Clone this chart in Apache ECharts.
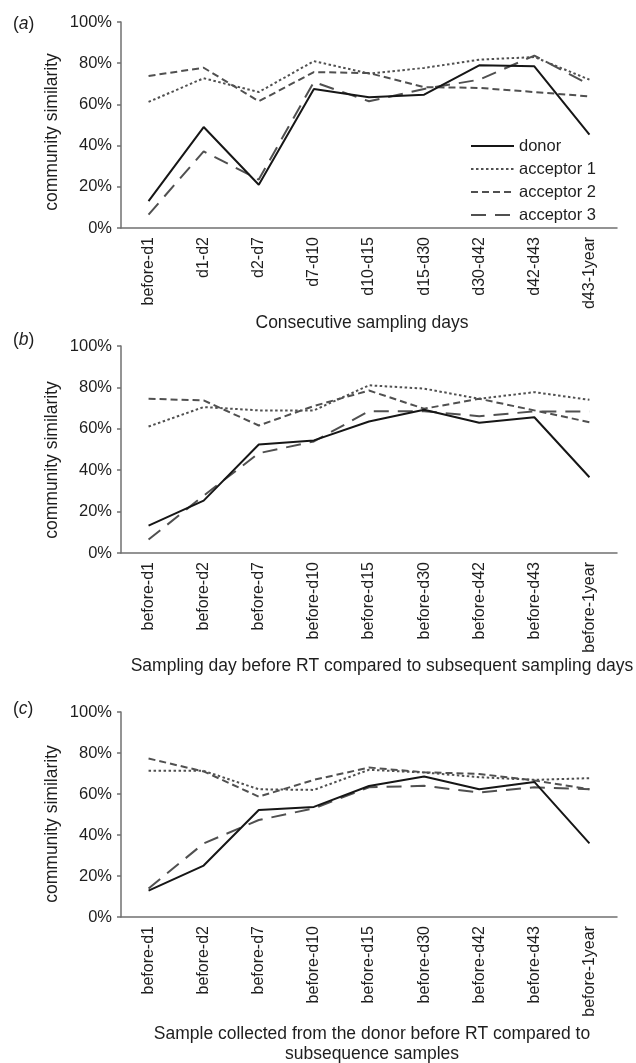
<!DOCTYPE html>
<html>
<head>
<meta charset="utf-8">
<script src="https://cdn.jsdelivr.net/npm/echarts@6/dist/echarts.min.js"></script>
<style>
  html, body { margin: 0; padding: 0; background: #fff; }
  #chart { width: 636px; height: 1063px; }
</style>
</head>
<body>
<div id="chart"></div>
<script>
// Community similarity (%) for donor and acceptors, three comparison schemes
const catsA = ['before-d1', 'd1-d2', 'd2-d7', 'd7-d10', 'd10-d15', 'd15-d30', 'd30-d42', 'd42-d43', 'd43-1year'];
const catsBC = ['before-d1', 'before-d2', 'before-d7', 'before-d10', 'before-d15', 'before-d30', 'before-d42', 'before-d43', 'before-1year'];
const yTicks = [0, 20, 40, 60, 80, 100];

// (a) consecutive sampling days
const donorA = [13, 49, 21, 67.5, 63.5, 64.7, 79, 78.5, 45.3];
const acc1A = [61.2, 72.7, 66, 81, 75, 77.7, 81.7, 83, 72];
const acc2A = [73.8, 77.8, 61.5, 75.7, 75.2, 68.4, 68, 66, 63.9];
const acc3A = [6.5, 37.2, 23.5, 70.9, 61.5, 67.5, 72, 83.7, 69.6];

// (b) sampling day before RT vs subsequent days
const donorB = [13.2, 25.3, 52.4, 54.4, 63.5, 69.2, 62.9, 65.6, 36.6];
const acc1B = [61.1, 70.5, 68.9, 68.9, 81, 79.4, 74.5, 77.7, 74];
const acc2B = [74.5, 73.7, 61.6, 71, 78.5, 69.7, 74.5, 68.9, 63.2];
const acc3B = [6.5, 27.7, 48.2, 53.9, 68.5, 68.5, 66.1, 68.4, 68.4];

// (c) donor sample before RT vs subsequent samples
const donorC = [12.9, 25.1, 52.2, 53.7, 63.9, 68.5, 62.3, 65.9, 35.9];
const acc1C = [71.3, 71.3, 62.3, 62, 71.8, 70.5, 68.2, 66.9, 67.7];
const acc2C = [77.3, 71, 58.7, 66.9, 72.9, 70.6, 69.8, 66.6, 62.3];
const acc3C = [13.9, 35.9, 47.3, 53, 63.3, 64, 60.7, 63.3, 62.3];

const seriesNames = ['donor', 'acceptor 1', 'acceptor 2', 'acceptor 3'];

const FONT = '"Liberation Sans", Arial, Helvetica, sans-serif';
const TEXT = '#1e1e1e';
const AXIS = '#707070';

const lineStyles = [
  { color: '#161616', width: 2, type: 'solid' },
  { color: '#505050', width: 2, type: [2.5, 2.5] },
  { color: '#505050', width: 2, type: [7, 4] },
  { color: '#505050', width: 2, type: [15, 9] }
];

const grids = [
  { left: 121, width: 496, top: 22, height: 206 },
  { left: 121, width: 496, top: 346, height: 207 },
  { left: 121, width: 496, top: 712, height: 205 }
];

function xAxisFor(idx, cats) {
  return {
    type: 'category', gridIndex: idx, data: cats, boundaryGap: true,
    axisLine: { lineStyle: { color: AXIS, width: 1.5 } },
    axisTick: { alignWithLabel: true, length: 5, lineStyle: { color: AXIS, width: 1.5 } },
    axisLabel: { rotate: 90, margin: 9, color: TEXT, fontSize: 16, fontFamily: FONT },
    splitLine: { show: false }
  };
}

function yAxisFor(idx) {
  return {
    type: 'value', gridIndex: idx, min: yTicks[0], max: yTicks[yTicks.length - 1], interval: 20,
    axisLine: { show: true, lineStyle: { color: AXIS, width: 1.5 } },
    axisTick: { show: true, length: 4, lineStyle: { color: AXIS, width: 1.5 } },
    axisLabel: { formatter: '{value}%', margin: 9, color: TEXT, fontSize: 16.5, fontFamily: FONT },
    splitLine: { show: false }
  };
}

function seriesFor(idx, sets) {
  return sets.map((d, i) => ({
    name: seriesNames[i], type: 'line', xAxisIndex: idx, yAxisIndex: idx,
    data: d, symbol: 'none', smooth: false, animation: false,
    lineStyle: lineStyles[i], itemStyle: { color: lineStyles[i].color },
    z: 10 - i
  }));
}

const panelLabel = (letter, top) => ({
  left: 8, top: top, text: '({i|' + letter + '})',
  textStyle: {
    fontSize: 17.5, fontWeight: 'normal', color: TEXT, fontFamily: FONT,
    rich: { i: { fontStyle: 'italic', fontSize: 17.5, color: TEXT, fontFamily: FONT } }
  }
});

const axisTitle = (text, cx, top) => ({
  left: cx, top: top, textAlign: 'center', text: text,
  textStyle: { fontSize: 17.5, fontWeight: 'normal', color: TEXT, fontFamily: FONT, lineHeight: 20 }
});

const yName = (cy) => ({
  type: 'text', x: 52, y: cy, rotation: Math.PI / 2,
  style: { text: 'community similarity', fill: TEXT, font: '17.5px ' + FONT, align: 'center', verticalAlign: 'middle' }
});

const chart = echarts.init(document.getElementById('chart'), null, { renderer: 'canvas' });
chart.setOption({
  animation: false,
  backgroundColor: '#fff',
  textStyle: { fontFamily: FONT },
  grid: grids,
  xAxis: [xAxisFor(0, catsA), xAxisFor(1, catsBC), xAxisFor(2, catsBC)],
  yAxis: [yAxisFor(0), yAxisFor(1), yAxisFor(2)],
  title: [
    panelLabel('a', 10), panelLabel('b', 326), panelLabel('c', 695),
    axisTitle('Consecutive sampling days', 357, 308),
    axisTitle('Sampling day before RT compared to subsequent sampling days', 377, 651),
    axisTitle('Sample collected from the donor before RT compared to\nsubsequence samples', 367, 1019)
  ],
  legend: {
    orient: 'vertical', left: 465, top: 132,
    itemWidth: 43, itemHeight: 10, itemGap: 5,
    data: seriesNames,
    itemStyle: { opacity: 0 },
    textStyle: { fontSize: 16.5, color: TEXT, fontFamily: FONT, lineHeight: 18 }
  },
  graphic: [yName(132), yName(460), yName(824)],
  series: [].concat(
    seriesFor(0, [donorA, acc1A, acc2A, acc3A]),
    seriesFor(1, [donorB, acc1B, acc2B, acc3B]),
    seriesFor(2, [donorC, acc1C, acc2C, acc3C])
  )
});
</script>
</body>
</html>
